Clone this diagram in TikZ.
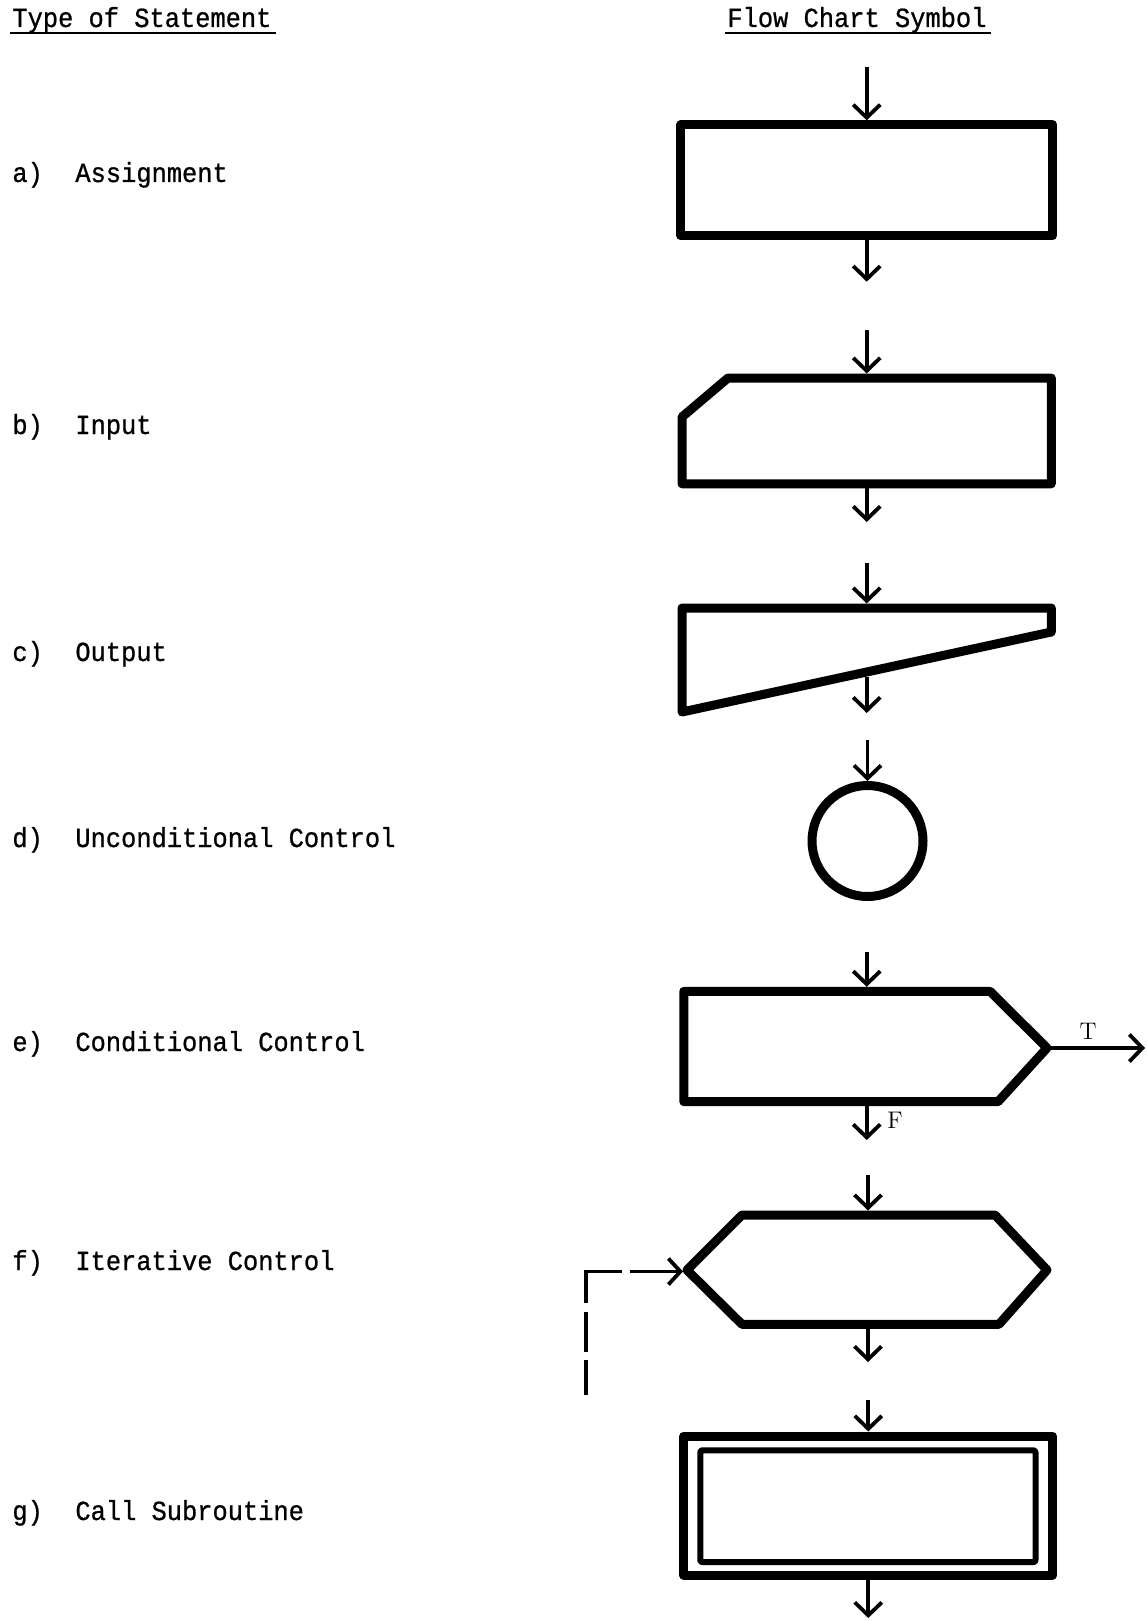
\documentclass[tikz,border=0pt]{standalone}
\usepackage{fontspec}
\newfontfamily\typer[FakeStretch=0.92,FakeBold=0.8]{Liberation Mono}
\usetikzlibrary{arrows.meta,calc}

\tikzset{
  typed/.style={inner sep=0pt, anchor=base west, font=\typer\fontsize{13.8}{16}\selectfont},
  tflabel/.style={inner sep=0pt, anchor=base, font=\fontsize{12}{14}\selectfont},
  symbolline/.style={line width=4.5pt, line join=round},
  inner line/.style={line width=3pt, line join=round, rounded corners=1pt},
  flow/.style={line width=1.9pt, -{Straight Barb[length=6.5pt,width=13.5pt]}},
  loopback/.style={line width=1.9pt, -{Straight Barb[length=6pt,width=13pt]},
    dash pattern=on 17.5pt off 4pt on 20pt off 4.5pt on 33.5pt off 4pt on 30pt off 0pt},
  heading rule/.style={line width=1pt},
}

\begin{document}
\begin{tikzpicture}[x=0.5pt, y=-0.5pt]
  \useasboundingbox (0,0) rectangle (1146,1621);

  % column headings
  \node[typed] (h1) at (12,27) {Type of Statement};
  \node[typed] (h2) at (727,27) {Flow Chart Symbol};
  \draw[heading rule] ($(h1.base west)+(-2,6)$) -- ($(h1.base east)+(4,6)$);
  \draw[heading rule] ($(h2.base west)+(-2,6)$) -- ($(h2.base east)+(4,6)$);

  % statement kinds
  \node[typed] (la) at (12,182)  {a)}; \node[typed] (ta) at (75,182)  {Assignment};
  \node[typed] (lb) at (12,434)  {b)}; \node[typed] (tb) at (75,434)  {Input};
  \node[typed] (lc) at (12,661)  {c)}; \node[typed] (tc) at (75,661)  {Output};
  \node[typed] (ld) at (12,847)  {d)}; \node[typed] (td) at (75,847)  {Unconditional Control};
  \node[typed] (le) at (12,1051) {e)}; \node[typed] (te) at (75,1051) {Conditional Control};
  \node[typed] (lf) at (12,1270) {f)}; \node[typed] (tf) at (75,1270) {Iterative Control};
  \node[typed] (lg) at (12,1520) {g)}; \node[typed] (tg) at (75,1520) {Call Subroutine};

  % a) assignment box
  \node[symbolline, draw, inner sep=0pt, minimum width=186pt, minimum height=55.5pt]
    (assign) at (866.7,180.3) {};
  \coordinate (assign-in)  at (866.7,66.7);
  \coordinate (assign-out) at (866.7,281.7);
  \draw[flow] (assign-in) -- (assign.north);
  \draw[flow] (assign.south) -- (assign-out);

  % b) input box with clipped corner
  \draw[symbolline] (682,417) -- (728,378) -- (1051.3,378) -- (1051.3,483.8)
    -- (682,483.8) -- cycle;
  \coordinate (input-top)    at (866.7,373.5);
  \coordinate (input-bottom) at (866.7,488.3);
  \coordinate (input-in)     at (866.7,330);
  \coordinate (input-out)    at (866.7,522);
  \draw[flow] (input-in) -- (input-top);
  \draw[flow] (input-bottom) -- (input-out);

  % c) output box with slanted base
  \draw[symbolline] (682,608) -- (1051.3,608) -- (1051.3,632) -- (682,712) -- cycle;
  \coordinate (output-top)    at (866.7,603.5);
  \coordinate (output-bottom) at (866.7,676.5);
  \coordinate (output-in)     at (866.7,563);
  \coordinate (output-out)    at (866.7,713);
  \draw[flow] (output-in) -- (output-top);
  \draw[flow] (output-bottom) -- (output-out);

  % d) connector circle
  \node[symbolline, draw, circle, inner sep=0pt, minimum size=55.5pt]
    (jump) at (867.5,841) {};
  \coordinate (jump-in) at (867.5,740);
  \draw[flow] (jump-in) -- (jump.north);

  % e) decision box
  \draw[symbolline] (683.8,991.3) -- (990,991.3) -- (1047,1048) -- (998,1101.7)
    -- (683.8,1101.7) -- cycle;
  \coordinate (cond-top)    at (866.7,986.8);
  \coordinate (cond-bottom) at (866.7,1106.2);
  \coordinate (cond-tip)    at (1049,1048);
  \coordinate (cond-in)     at (866.7,952);
  \coordinate (cond-false)  at (866.7,1140);
  \coordinate (cond-true)   at (1145,1048);
  \draw[flow] (cond-in) -- (cond-top);
  \draw[flow] (cond-bottom) -- (cond-false);
  \draw[flow] (cond-tip) -- (cond-true);
  \node[tflabel] (tlab) at (1088,1039) {T};
  \node[tflabel] (flab) at (895,1128) {F};

  % f) loop box
  \draw[symbolline] (687,1270) -- (742,1215) -- (995,1215) -- (1047,1270)
    -- (999,1324.3) -- (742,1324.3) -- cycle;
  \coordinate (loop-top)    at (868,1210.5);
  \coordinate (loop-bottom) at (868,1329);
  \coordinate (loop-left)   at (683,1271.5);
  \coordinate (loop-in)     at (868,1175);
  \coordinate (loop-out)    at (868,1362);
  \coordinate (loop-back)   at (586,1395);
  \draw[flow] (loop-in) -- (loop-top);
  \draw[flow] (loop-bottom) -- (loop-out);
  \draw[loopback] (loop-back) |- (loop-left);

  % g) subroutine box
  \node[symbolline, draw, inner sep=0pt, minimum width=184.4pt, minimum height=69.5pt]
    (call) at (868.3,1505.5) {};
  \node[inner line, draw, inner sep=0pt, minimum width=167.6pt, minimum height=55.9pt]
    (callin) at (867.9,1506.2) {};
  \coordinate (call-in)  at (868.3,1400);
  \coordinate (call-out) at (868.3,1618);
  \draw[flow] (call-in) -- (call.north);
  \draw[flow] (call.south) -- (call-out);
\end{tikzpicture}
\end{document}
